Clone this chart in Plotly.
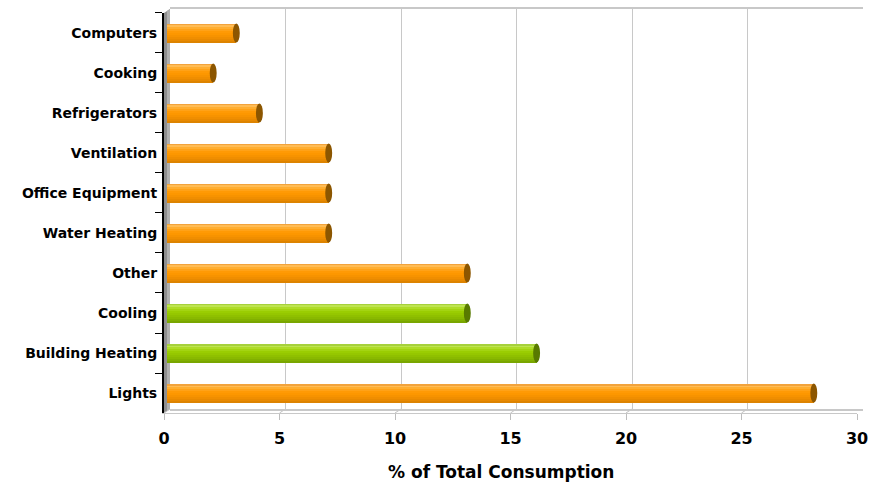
import plotly.graph_objects as go

# Share of total energy consumption by end use (bottom to top)
categories = ["Lights", "Building Heating", "Cooling", "Other", "Water Heating",
              "Office Equipment", "Ventilation", "Refrigerators", "Cooking", "Computers"]
values = [28, 16, 13, 13, 7, 7, 7, 4, 2, 3]
groups = ["orange", "green", "green", "orange", "orange",
          "orange", "orange", "orange", "orange", "orange"]
x_ticks = [0, 5, 10, 15, 20, 25, 30]
x_title = "% of Total Consumption"

W, H = 881, 484
ML, MR, MT, MB = 164, 18, 7, 71
PW, PH = W - ML - MR, H - MT - MB
DX, DY = 6, 4  # depth offset of the back wall, px

FONT = "DejaVu Sans, Verdana, sans-serif"

# cylinder shading, top edge to bottom edge
shades = {
    "orange": ["#F2A33C", "#FFBC55", "#FFAE30", "#FFA218", "#FF9A05",
               "#FD9700", "#F79300", "#F08E00", "#E88900", "#DD8300"],
    "green": ["#A6D13C", "#BEE451", "#AFDC28", "#A3D412", "#9ACD02",
              "#95C700", "#8FC000", "#89B900", "#81B000", "#79A600"],
}
cap_colors = {"orange": "#8C5600", "green": "#587A00"}

BAR_H = 0.47
n_bands = len(shades["orange"])
band_h = BAR_H / n_bands

fig = go.Figure()

# gridlines of the back wall need a trace on its axes
fig.add_trace(go.Scatter(x=[0], y=[0], xaxis="x2", yaxis="y2", mode="markers",
                         marker=dict(opacity=0), hoverinfo="skip", showlegend=False))

for b in range(n_bands):
    top = BAR_H / 2 - b * band_h
    fig.add_trace(go.Bar(
        x=values, y=categories, orientation="h",
        xaxis="x3", yaxis="y",
        width=band_h * 1.15, offset=top - band_h * 1.15,
        marker=dict(color=[shades[g][b] for g in groups], line=dict(width=0)),
        hoverinfo="skip", showlegend=False,
    ))

shapes = []

# left side wall of the box
shapes.append(dict(
    type="path", xref="paper", yref="paper", layer="below",
    path=f"M 0 0 L 0 {(PH - DY) / PH} L {DX / PW} 1 L {DX / PW} {DY / PH} Z",
    fillcolor="#8E8E8E", line=dict(width=0),
))
shapes.append(dict(
    type="path", xref="paper", yref="paper", layer="below",
    path=f"M {DX * 0.5 / PW} {DY * 0.5 / PH} L {DX * 0.5 / PW} {(PH - DY * 0.5) / PH} "
         f"L {DX / PW} 1 L {DX / PW} {DY / PH} Z",
    fillcolor="#B0B0B0", line=dict(width=0),
))

# floor: slanted links from back gridlines to front ticks
unit_px = (PW - DX) / 30.0
for t in x_ticks:
    shapes.append(dict(
        type="line", xref="x", yref="paper", layer="below",
        x0=t, y0=0, x1=t + DX / unit_px, y1=DY / PH,
        line=dict(color="#C4C4C4", width=1),
    ))

# end caps of the cylinders
for i, (v, g) in enumerate(zip(values, groups)):
    shapes.append(dict(
        type="circle", xref="x3", yref="y", layer="above",
        x0=v - 0.15, x1=v + 0.15, y0=i - BAR_H / 2, y1=i + BAR_H / 2,
        fillcolor=cap_colors[g], line=dict(width=0),
    ))

fig.update_layout(
    width=W, height=H,
    margin=dict(l=ML, r=MR, t=MT, b=MB, pad=0),
    paper_bgcolor="white", plot_bgcolor="rgba(0,0,0,0)",
    barmode="overlay", bargap=0,
    font=dict(family=FONT, color="black"),
    showlegend=False, hovermode=False,
    shapes=shapes,
    # front axes
    xaxis=dict(
        domain=[0, (PW - DX) / PW], range=[0, 30], anchor="y",
        tickvals=x_ticks, ticks="outside", ticklen=6, tickcolor="#BDBDBD",
        ticklabelstandoff=5,
        showgrid=False, zeroline=False,
        showline=True, linecolor="#C8C8C8", linewidth=1,
        tickfont=dict(size=16, family=FONT, weight="bold"),
    ),
    yaxis=dict(
        domain=[0, (PH - DY) / PH], range=[-0.5, 9.5], anchor="x",
        type="category", categoryorder="array", categoryarray=categories,
        tickson="boundaries", ticks="outside", ticklen=7, tickcolor="black",
        tickwidth=1, showgrid=False, zeroline=False,
        showline=True, linecolor="black", linewidth=2,
        ticklabelstandoff=2,
        tickfont=dict(size=14, family=FONT, weight="bold"),
    ),
    # back wall with gridlines
    xaxis2=dict(
        domain=[DX / PW, 1], range=[0, 30], anchor="y2",
        tickvals=x_ticks, showticklabels=False, ticks="",
        showgrid=True, gridcolor="#C8C8C8", gridwidth=1, zeroline=False,
        showline=True, mirror=True, linecolor="#C8C8C8", linewidth=2,
    ),
    yaxis2=dict(
        domain=[DY / PH, 1], range=[0, 1], anchor="x2",
        showticklabels=False, ticks="", showgrid=False, zeroline=False,
        showline=False,
    ),
    # mid depth, where the cylinders sit
    xaxis3=dict(
        domain=[DX / 2 / PW, (PW - DX / 2) / PW], range=[0, 30], anchor="y",
        visible=False, showgrid=False, zeroline=False,
    ),
    annotations=[dict(
        text=x_title, xref="paper", yref="paper",
        x=(501 - ML) / PW, y=-(472 - (H - MB)) / PH,
        xanchor="center", yanchor="middle", showarrow=False,
        font=dict(size=17, family=FONT, weight="bold", color="black"),
    )],
)

fig.write_html("out.html")
